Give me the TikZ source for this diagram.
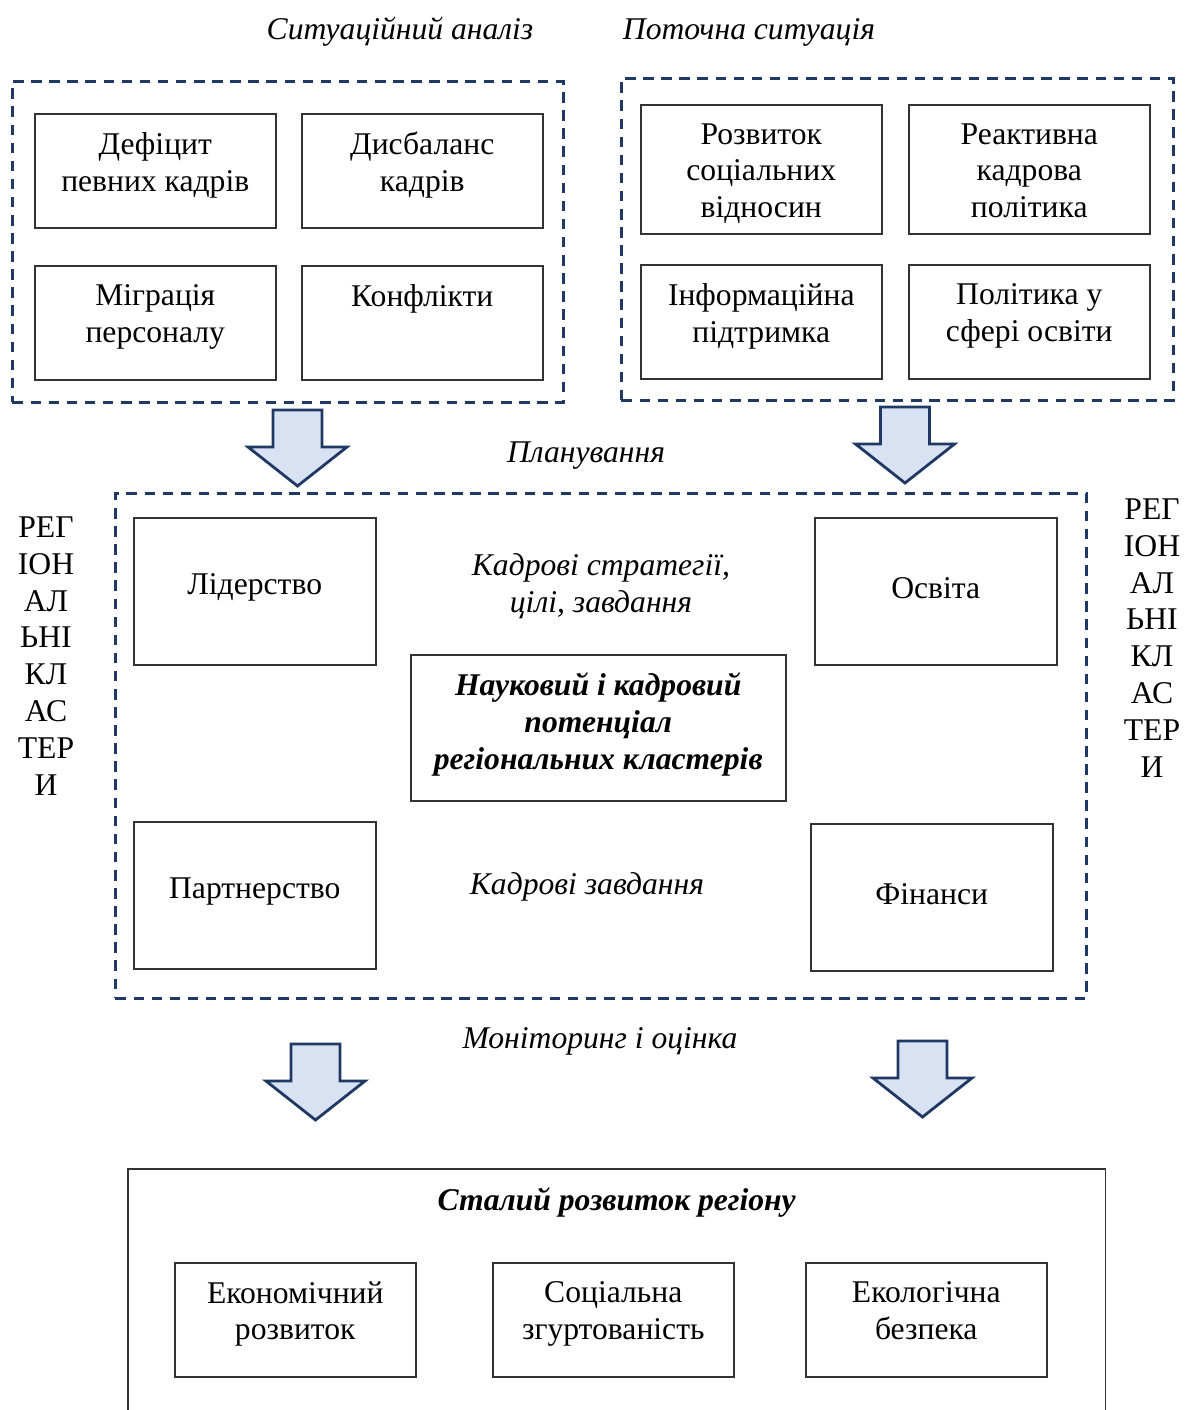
\documentclass[tikz,border=0pt]{standalone}
\usepackage{fontspec}
\setmainfont{Liberation Serif}
\usetikzlibrary{positioning}
\definecolor{frameBlue}{HTML}{1F3864}
\definecolor{arrowFill}{HTML}{D9E2F3}

\begin{document}
\begin{tikzpicture}[
  x=0.02cm, y=-0.02cm,
  font=\fontsize{18}{21}\selectfont,
  groupBox/.style={draw=frameBlue, line width=1.6pt, dash pattern=on 6pt off 4.3pt, anchor=north west, inner sep=0},
  cellBox/.style={draw=black!80, line width=0.9pt, anchor=north west, inner sep=0, minimum width=4.82cm, minimum height=2.28cm},
  midBox/.style={cellBox, minimum width=4.84cm, minimum height=2.94cm},
  topText/.style={anchor=north, align=center, inner sep=0.38cm},
  midText/.style={anchor=center, align=center, inner sep=0, yshift=0.07cm},
  stageText/.style={font=\fontsize{18}{21}\selectfont\itshape, align=center, yshift=-0.06cm},
  sideText/.style={align=center, inner sep=0},
  blockArrow/.style={draw=frameBlue, fill=arrowFill, line width=1.6pt},
  pics/downArrow/.style={code={
    \draw[blockArrow] (-24.5,0) -- (24.5,0) -- (24.5,37) -- (49.5,37) -- (0,76) -- (-49.5,37) -- (-24.5,37) -- cycle;
  }}
]
  \useasboundingbox (0,0) rectangle (1184,1410);

  % situation analysis and current situation
  \node [stageText] (analysisTitle) at (400,29) {Ситуаційний аналіз};
  \node [stageText] (currentTitle) at (749,29) {Поточна ситуація};
  \node [groupBox, minimum width=11.02cm, minimum height=6.42cm] (analysisGroup) at (11,80) {};
  \node [groupBox, minimum width=11.04cm, minimum height=6.44cm] (currentGroup) at (620,77) {};

  \node [cellBox, label={[topText]north:Дефіцит\\певних кадрів}] (deficit) at (34,113) {};
  \node [cellBox, label={[topText]north:Дисбаланс\\кадрів}] (imbalance) at (301,113) {};
  \node [cellBox, label={[topText]north:Міграція\\персоналу}] (migration) at (34,265) {};
  \node [cellBox, label={[topText]north:Конфлікти}] (conflicts) at (301,265) {};

  \node [cellBox, minimum height=2.58cm, label={[topText]north:Розвиток\\соціальних\\відносин}] (relations) at (640,104) {};
  \node [cellBox, minimum height=2.58cm, label={[topText]north:Реактивна\\кадрова\\політика}] (reactive) at (908,104) {};
  \node [cellBox, label={[topText]north:Інформаційна\\підтримка}] (infoSupport) at (640,264) {};
  \node [cellBox, label={[topText]north:Політика у\\сфері освіти}] (eduPolicy) at (908,264) {};

  \pic at (297.5,410) {downArrow};
  \pic at (905,407) {downArrow};

  % planning
  \node [stageText] (planTitle) at (586,453) {Планування};
  \node [groupBox, minimum width=19.42cm, minimum height=10.1cm] (planGroup) at (114,492) {};

  \node [midBox, label={[midText]center:Лідерство}] (leadership) at (133,517) {};
  \node [midBox, label={[midText]center:Освіта}] (education) at (814,517) {};
  \node [midBox, label={[midText]center:Партнерство}] (partnership) at (133,821) {};
  \node [midBox, label={[midText]center:Фінанси}] (finance) at (810,823) {};
  \node [cellBox, minimum width=7.5cm, minimum height=2.92cm,
    label={[midText, font=\fontsize{18}{21}\selectfont\bfseries\itshape]center:Науковий і кадровий\\потенціал\\регіональних кластерів}] (potential) at (410,654) {};

  \node [stageText] (strategyText) at (601,583) {Кадрові стратегії,\\цілі, завдання};
  \node [stageText] (tasksText) at (587,884) {Кадрові завдання};

  \node [sideText] (clusterLeft) at (46,656) {РЕГ\\ІОН\\АЛ\\ЬНІ\\КЛ\\АС\\ТЕР\\И};
  \node [sideText] (clusterRight) at (1152,638) {РЕГ\\ІОН\\АЛ\\ЬНІ\\КЛ\\АС\\ТЕР\\И};

  % monitoring
  \node [stageText] (monitorTitle) at (600,1038) {Моніторинг і оцінка};
  \pic at (315.5,1044) {downArrow};
  \pic at (922.5,1041) {downArrow};

  % sustainable development
  \node [draw=black!80, line width=0.9pt, anchor=north west, inner sep=0, minimum width=19.56cm, minimum height=6cm,
    label={[topText, font=\fontsize{18}{21}\selectfont\bfseries\itshape]north:Сталий розвиток регіону}] (sustainGroup) at (127,1168) {};
  \node [cellBox, label={[topText]north:Економічний\\розвиток}] (economy) at (174,1262) {};
  \node [cellBox, label={[topText]north:Соціальна\\згуртованість}] (cohesion) at (492,1262) {};
  \node [cellBox, label={[topText]north:Екологічна\\безпека}] (ecology) at (805,1262) {};
\end{tikzpicture}
\end{document}
